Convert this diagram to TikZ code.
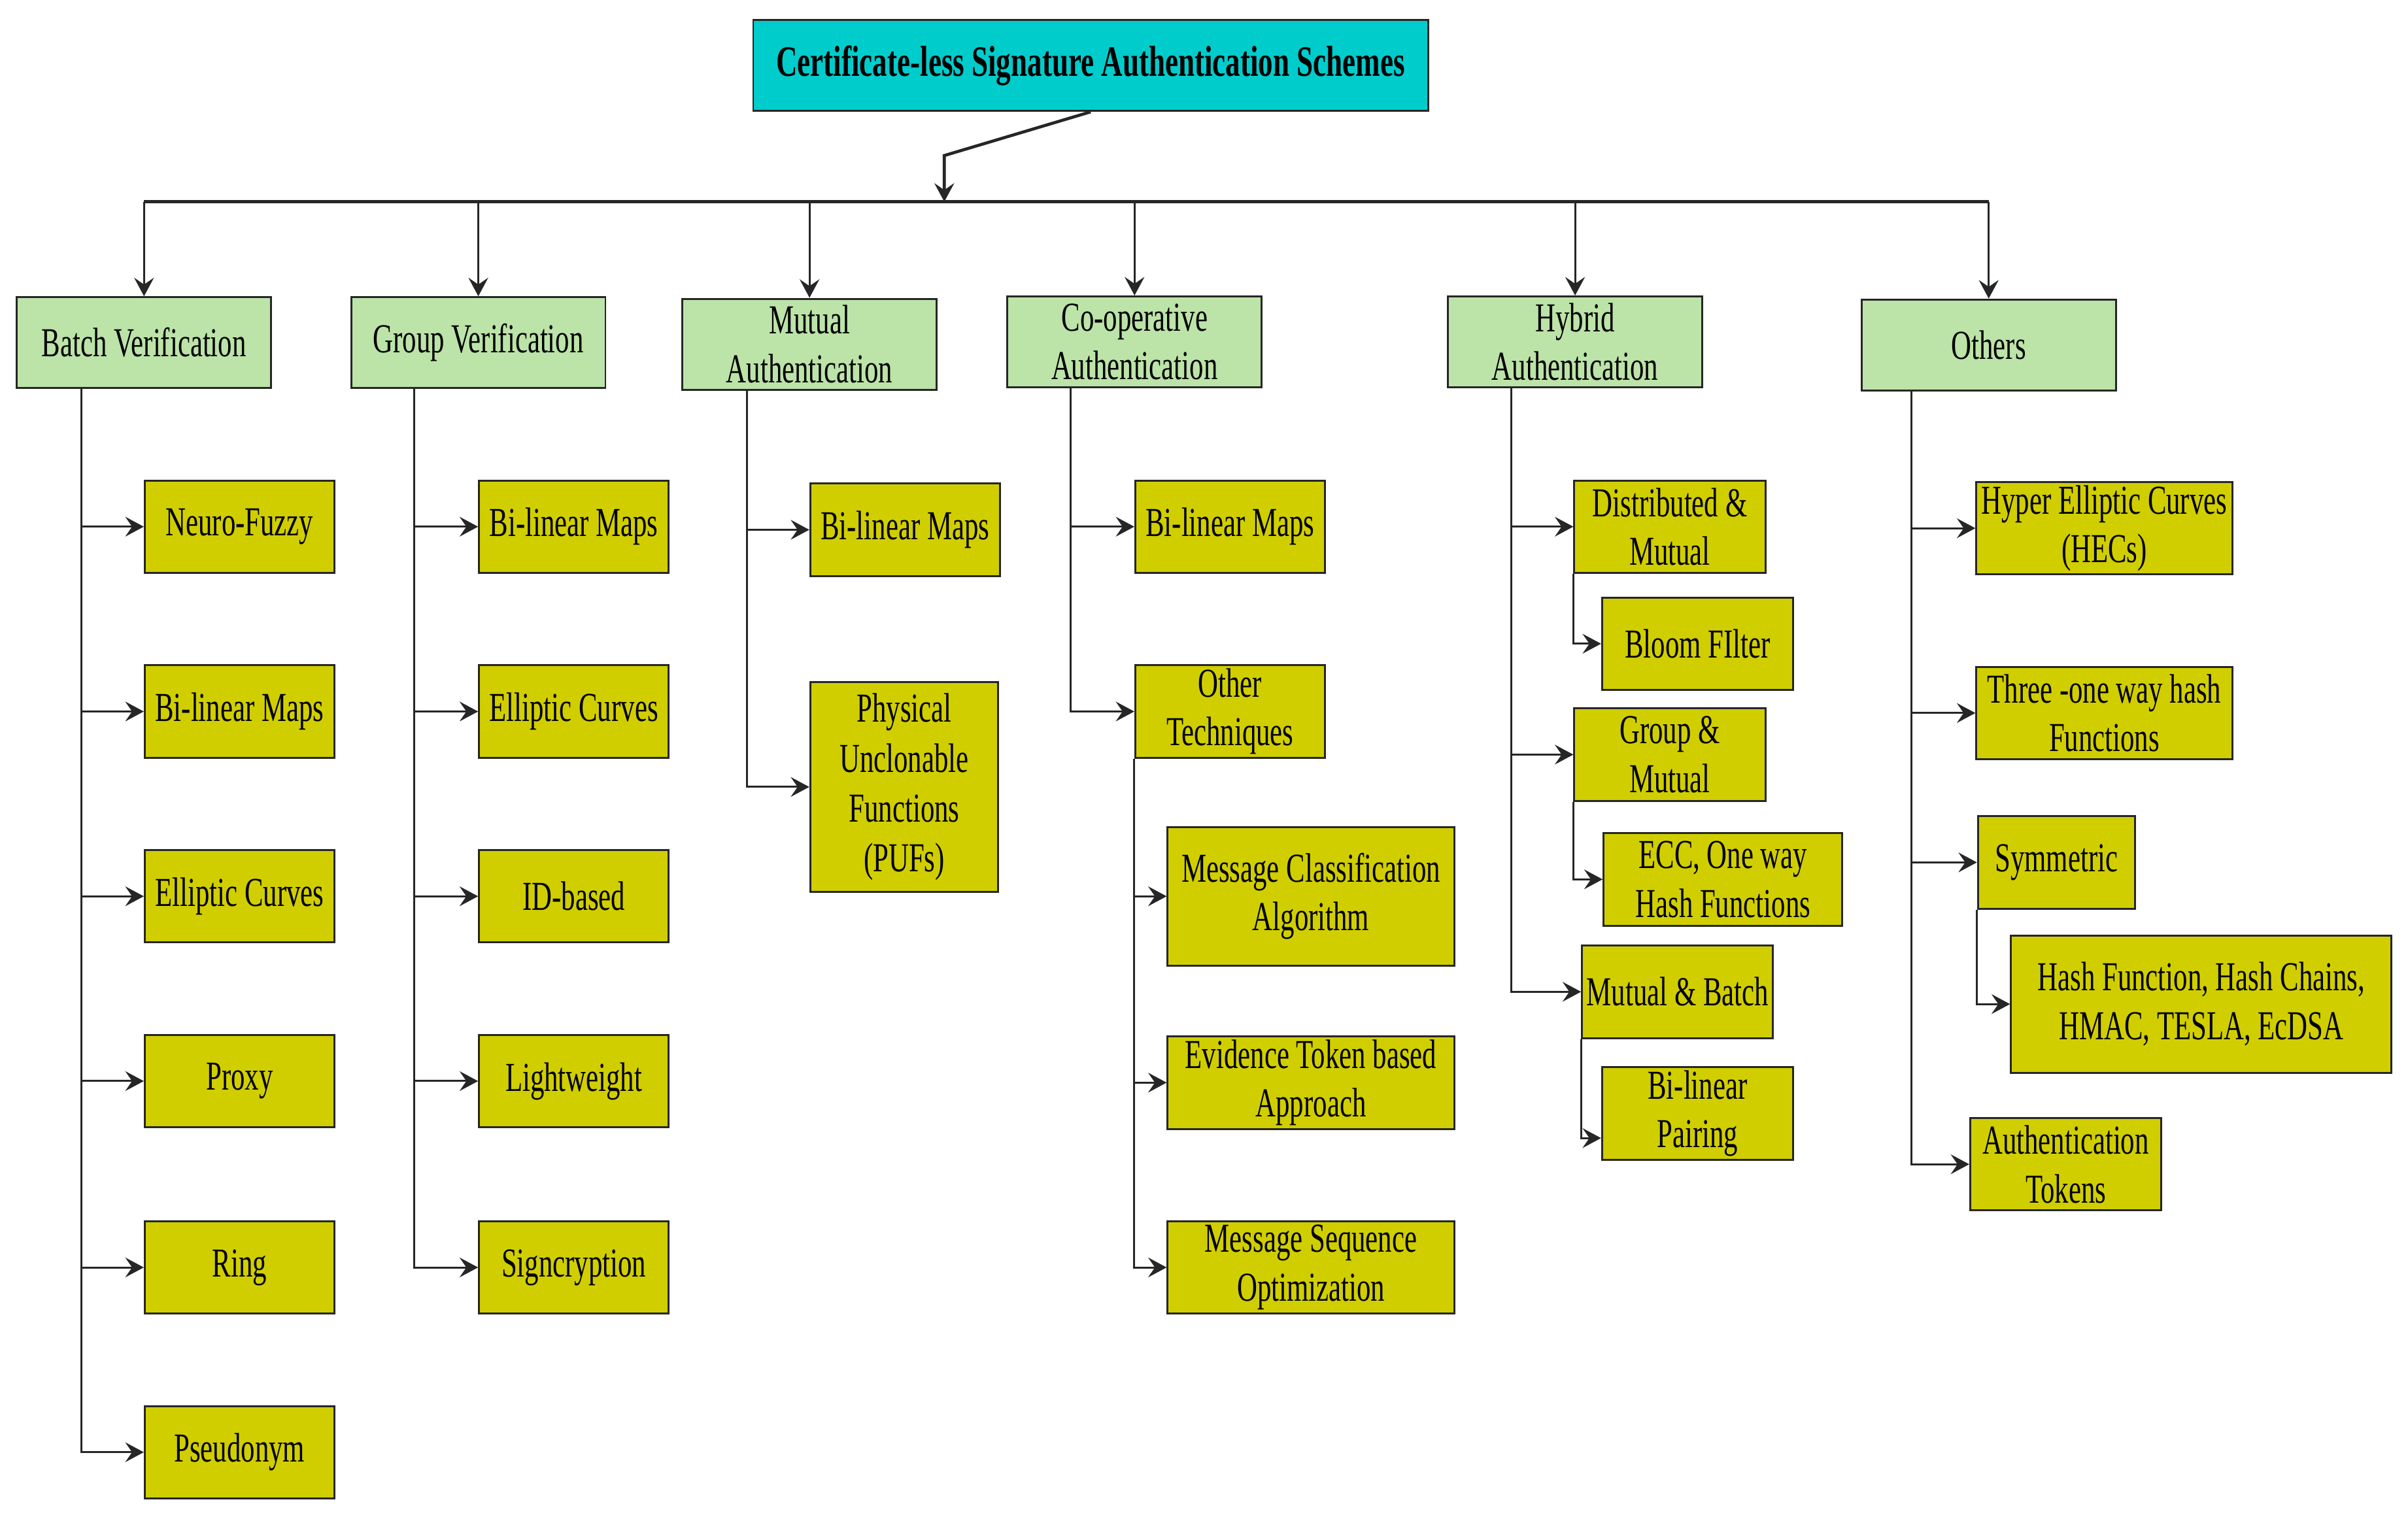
\documentclass[tikz,border=0pt]{standalone}
\usepackage{fontspec}
\setmainfont{Liberation Serif}[FakeStretch=0.68]
\usepackage{xcolor}
\usepackage{tikz}
\usetikzlibrary{arrows.meta}
\usetikzlibrary{positioning}
\definecolor{cyanbox}{RGB}{0,204,204}
\definecolor{greenbox}{RGB}{188,227,168}
\definecolor{yellowbox}{RGB}{209,206,0}

\begin{document}
\begin{tikzpicture}[x=0.025cm, y=-0.025cm,
  font=\fontsize{19}{22.5}\selectfont,
  box/.style={draw=black!85, line width=0.9pt, align=center, inner sep=1pt, minimum height=1.5cm},
  cat/.style={box, fill=greenbox, minimum width=4.125cm, minimum height=1.475cm},
  leaf/.style={box, fill=yellowbox, minimum width=3.075cm},
  arr/.style={-{Stealth[length=3mm,width=3.2mm,inset=1.1mm]}, line width=0.9pt, black!85}]

  \fill[white] (0,0) rectangle (1563.2,987.3);
  \useasboundingbox (0,0) rectangle (1563.2,987.3);

  % root
  \node[box, fill=cyanbox, minimum width=10.95cm, minimum height=1.475cm,
    font=\fontsize{20}{24}\selectfont\bfseries] (root) at (708,42.5)
    {Certificate-less Signature Authentication Schemes};

  % categories
  \node[cat] (bv) at (93.5,222.5) {Batch Verification};
  \node[cat] (gv) at (310.5,222.5) {Group Verification};
  \node[cat] (ma) at (525.5,223.5) {Mutual\\Authentication};
  \node[cat] (ca) at (736.5,222) {Co-operative\\Authentication};
  \node[cat] (ha) at (1022.5,222) {Hybrid\\Authentication};
  \node[cat] (ot) at (1291,224) {Others};

  % batch verification
  \node[leaf] (bv1) at (155.5,342) {Neuro-Fuzzy};
  \node[leaf] (bv2) at (155.5,462) {Bi-linear Maps};
  \node[leaf] (bv3) at (155.5,582) {Elliptic Curves};
  \node[leaf] (bv4) at (155.5,702) {Proxy};
  \node[leaf] (bv5) at (155.5,823) {Ring};
  \node[leaf] (bv6) at (155.5,943) {Pseudonym};

  % group verification
  \node[leaf] (gv1) at (372.5,342) {Bi-linear Maps};
  \node[leaf] (gv2) at (372.5,462) {Elliptic Curves};
  \node[leaf] (gv3) at (372.5,582) {ID-based};
  \node[leaf] (gv4) at (372.5,702) {Lightweight};
  \node[leaf] (gv5) at (372.5,823) {Signcryption};

  % mutual authentication
  \node[leaf] (ma1) at (587.5,344) {Bi-linear Maps};
  \node[leaf, minimum width=3.05cm, minimum height=3.4cm, font=\fontsize{19}{23}\selectfont] (ma2) at (587,511)
    {Physical\\Unclonable\\Functions\\(PUFs)};

  % co-operative authentication
  \node[leaf] (ca1) at (798.5,342) {Bi-linear Maps};
  \node[leaf] (ca2) at (798.5,462) {Other\\Techniques};
  \node[leaf, minimum width=4.65cm, minimum height=2.25cm] (ca3) at (851,582) {Message Classification\\Algorithm};
  \node[leaf, minimum width=4.65cm] (ca4) at (851,703) {Evidence Token based\\Approach};
  \node[leaf, minimum width=4.65cm] (ca5) at (851,823) {Message Sequence\\Optimization};

  % hybrid authentication
  \node[leaf, minimum width=3.1cm] (ha1) at (1084,342) {Distributed \&\\Mutual};
  \node[leaf, minimum width=3.1cm] (ha2) at (1102,418) {Bloom FIlter};
  \node[leaf, minimum width=3.1cm] (ha3) at (1084,490) {Group \&\\Mutual};
  \node[leaf, minimum width=3.875cm] (ha4) at (1118.5,571) {ECC, One way\\Hash Functions};
  \node[leaf, minimum width=3.1cm] (ha5) at (1089,644) {Mutual \& Batch};
  \node[leaf, minimum width=3.1cm] (ha6) at (1102,723) {Bi-linear\\Pairing};

  % others
  \node[leaf, minimum width=4.15cm] (ot1) at (1366,343) {Hyper Elliptic Curves\\(HECs)};
  \node[leaf, minimum width=4.15cm] (ot2) at (1366,463) {Three -one way hash\\Functions};
  \node[leaf, minimum width=2.55cm] (ot3) at (1335,560) {Symmetric};
  \node[leaf, minimum width=6.175cm, minimum height=2.225cm] (ot4) at (1429,652)
    {Hash Function, Hash Chains,\\HMAC, TESLA, EcDSA};
  \node[leaf, minimum width=3.1cm] (ot5) at (1341,756) {Authentication\\Tokens};

  % root to categories
  \coordinate (knee) at (613,101);
  \coordinate (bus) at (613,131);
  \draw[arr, line width=1.4pt] (root.south) -- (knee) -- (bus);
  \draw[line width=1.4pt, black!85] (bv.north |- bus) -- (ot.north |- bus);
  \foreach \n in {bv,gv,ma,ca,ha,ot}
    \draw[arr] (\n.north |- bus) -- (\n.north);

  % trunks
  \coordinate (bvt) at (53,252);
  \coordinate (gvt) at (269,252);
  \coordinate (mat) at (485,253);
  \coordinate (cat) at (695,252);
  \coordinate (hat) at (981,252);
  \coordinate (ott) at (1241,254);

  \foreach \i in {1,...,6}
    \draw[arr] (bvt) |- (bv\i.west);
  \foreach \i in {1,...,5}
    \draw[arr] (gvt) |- (gv\i.west);
  \foreach \i in {1,2}
    \draw[arr] (mat) |- (ma\i.west);
  \foreach \i in {1,2}
    \draw[arr] (cat) |- (ca\i.west);
  \foreach \i in {3,4,5}
    \draw[arr] (ca2.south west) |- (ca\i.west);
  \foreach \i in {1,3,5}
    \draw[arr] (hat) |- (ha\i.west);
  \draw[arr] (ha1.south west) |- (ha2.west);
  \draw[arr] (ha3.south west) |- (ha4.west);
  \draw[arr] (ha5.south west) |- ([yshift=-0.4cm]ha6.west);
  \foreach \i in {1,2,3,5}
    \draw[arr] (ott) |- (ot\i.west);
  \draw[arr] (ot3.south west) |- (ot4.west);

\end{tikzpicture}
\end{document}
